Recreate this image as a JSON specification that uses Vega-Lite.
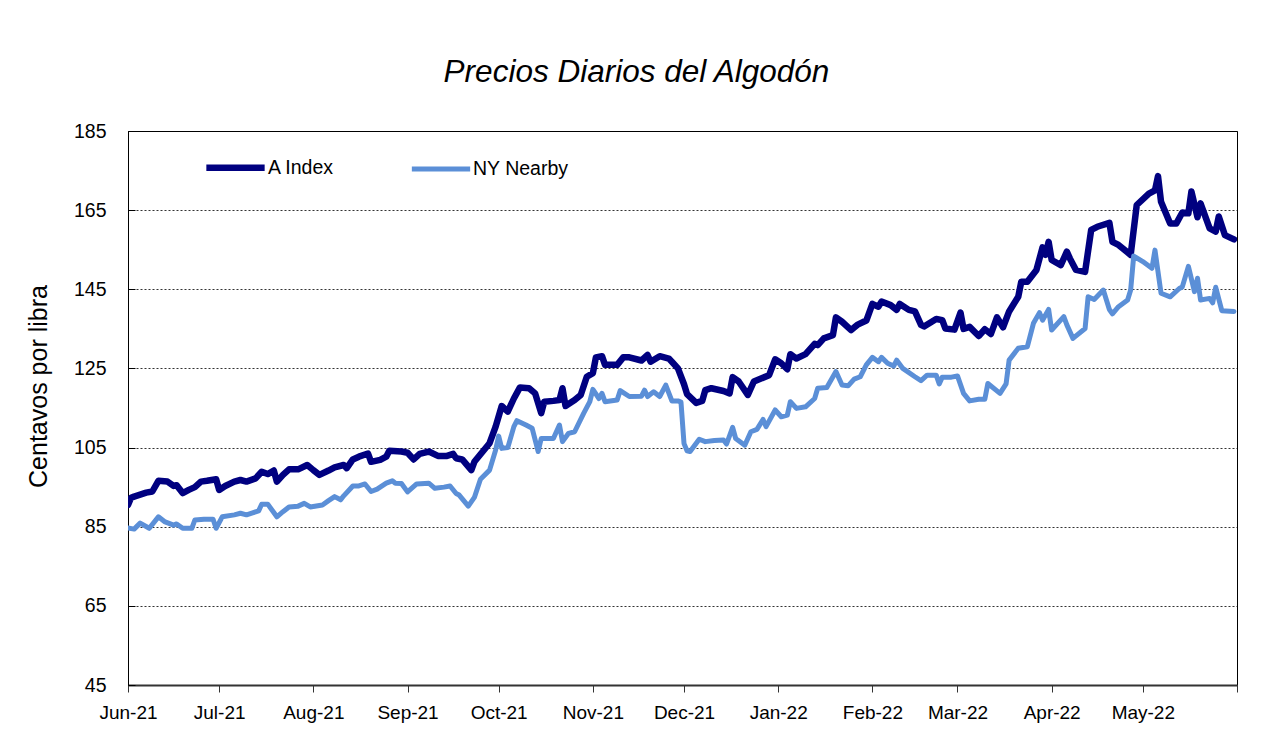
{
  "$schema": "https://vega.github.io/schema/vega-lite/v6.json",
  "width": 1109,
  "height": 554,
  "autosize": {"type": "none"},
  "padding": {"left": 128, "top": 131, "right": 35, "bottom": 58},
  "background": "white",
  "title": {
    "text": "Precios Diarios del Algodón",
    "font": "Liberation Sans",
    "fontSize": 31.5,
    "fontStyle": "italic",
    "fontWeight": "normal",
    "color": "#000",
    "anchor": "middle",
    "offset": 33,
    "dx": -46
  },
  "config": {
    "view": {"stroke": "#000", "strokeWidth": 1},
    "font": "Liberation Sans"
  },
  "datasets": {
    "precios": [
      {"fecha": "2021-06-01", "serie": "A Index", "valor": 90.5},
      {"fecha": "2021-06-02", "serie": "A Index", "valor": 92.3},
      {"fecha": "2021-06-03", "serie": "A Index", "valor": 92.6},
      {"fecha": "2021-06-07", "serie": "A Index", "valor": 93.6},
      {"fecha": "2021-06-09", "serie": "A Index", "valor": 93.9},
      {"fecha": "2021-06-11", "serie": "A Index", "valor": 96.6},
      {"fecha": "2021-06-14", "serie": "A Index", "valor": 96.4},
      {"fecha": "2021-06-16", "serie": "A Index", "valor": 95.3},
      {"fecha": "2021-06-17", "serie": "A Index", "valor": 95.5},
      {"fecha": "2021-06-19", "serie": "A Index", "valor": 93.5},
      {"fecha": "2021-06-21", "serie": "A Index", "valor": 94.3},
      {"fecha": "2021-06-23", "serie": "A Index", "valor": 95.0},
      {"fecha": "2021-06-25", "serie": "A Index", "valor": 96.4},
      {"fecha": "2021-06-27", "serie": "A Index", "valor": 96.6},
      {"fecha": "2021-06-30", "serie": "A Index", "valor": 97.0},
      {"fecha": "2021-07-01", "serie": "A Index", "valor": 94.3},
      {"fecha": "2021-07-03", "serie": "A Index", "valor": 95.3},
      {"fecha": "2021-07-06", "serie": "A Index", "valor": 96.4},
      {"fecha": "2021-07-08", "serie": "A Index", "valor": 96.8},
      {"fecha": "2021-07-10", "serie": "A Index", "valor": 96.4},
      {"fecha": "2021-07-13", "serie": "A Index", "valor": 97.2},
      {"fecha": "2021-07-15", "serie": "A Index", "valor": 98.9},
      {"fecha": "2021-07-17", "serie": "A Index", "valor": 98.3},
      {"fecha": "2021-07-19", "serie": "A Index", "valor": 99.2},
      {"fecha": "2021-07-20", "serie": "A Index", "valor": 96.4},
      {"fecha": "2021-07-22", "serie": "A Index", "valor": 98.1},
      {"fecha": "2021-07-24", "serie": "A Index", "valor": 99.5},
      {"fecha": "2021-07-27", "serie": "A Index", "valor": 99.5},
      {"fecha": "2021-07-30", "serie": "A Index", "valor": 100.6},
      {"fecha": "2021-08-01", "serie": "A Index", "valor": 99.3},
      {"fecha": "2021-08-03", "serie": "A Index", "valor": 98.1},
      {"fecha": "2021-08-06", "serie": "A Index", "valor": 99.2},
      {"fecha": "2021-08-08", "serie": "A Index", "valor": 100.0},
      {"fecha": "2021-08-11", "serie": "A Index", "valor": 100.6},
      {"fecha": "2021-08-12", "serie": "A Index", "valor": 99.8},
      {"fecha": "2021-08-14", "serie": "A Index", "valor": 102.0},
      {"fecha": "2021-08-16", "serie": "A Index", "valor": 102.7},
      {"fecha": "2021-08-19", "serie": "A Index", "valor": 103.5},
      {"fecha": "2021-08-20", "serie": "A Index", "valor": 101.4},
      {"fecha": "2021-08-23", "serie": "A Index", "valor": 101.9},
      {"fecha": "2021-08-25", "serie": "A Index", "valor": 102.7},
      {"fecha": "2021-08-26", "serie": "A Index", "valor": 104.2},
      {"fecha": "2021-08-30", "serie": "A Index", "valor": 104.0},
      {"fecha": "2021-09-01", "serie": "A Index", "valor": 103.7},
      {"fecha": "2021-09-03", "serie": "A Index", "valor": 102.0},
      {"fecha": "2021-09-05", "serie": "A Index", "valor": 103.4},
      {"fecha": "2021-09-08", "serie": "A Index", "valor": 104.0},
      {"fecha": "2021-09-11", "serie": "A Index", "valor": 102.9},
      {"fecha": "2021-09-14", "serie": "A Index", "valor": 102.9},
      {"fecha": "2021-09-16", "serie": "A Index", "valor": 103.4},
      {"fecha": "2021-09-17", "serie": "A Index", "valor": 102.3},
      {"fecha": "2021-09-19", "serie": "A Index", "valor": 102.0},
      {"fecha": "2021-09-22", "serie": "A Index", "valor": 99.3},
      {"fecha": "2021-09-23", "serie": "A Index", "valor": 101.4},
      {"fecha": "2021-09-28", "serie": "A Index", "valor": 106.1},
      {"fecha": "2021-09-30", "serie": "A Index", "valor": 110.3},
      {"fecha": "2021-10-02", "serie": "A Index", "valor": 115.5},
      {"fecha": "2021-10-04", "serie": "A Index", "valor": 114.1},
      {"fecha": "2021-10-06", "serie": "A Index", "valor": 117.4},
      {"fecha": "2021-10-08", "serie": "A Index", "valor": 120.2},
      {"fecha": "2021-10-11", "serie": "A Index", "valor": 120.0},
      {"fecha": "2021-10-13", "serie": "A Index", "valor": 118.7},
      {"fecha": "2021-10-15", "serie": "A Index", "valor": 113.7},
      {"fecha": "2021-10-16", "serie": "A Index", "valor": 116.6},
      {"fecha": "2021-10-19", "serie": "A Index", "valor": 116.8},
      {"fecha": "2021-10-21", "serie": "A Index", "valor": 117.0},
      {"fecha": "2021-10-22", "serie": "A Index", "valor": 120.0},
      {"fecha": "2021-10-23", "serie": "A Index", "valor": 115.5},
      {"fecha": "2021-10-26", "serie": "A Index", "valor": 117.0},
      {"fecha": "2021-10-28", "serie": "A Index", "valor": 118.3},
      {"fecha": "2021-10-30", "serie": "A Index", "valor": 122.9},
      {"fecha": "2021-11-01", "serie": "A Index", "valor": 123.8},
      {"fecha": "2021-11-02", "serie": "A Index", "valor": 127.8},
      {"fecha": "2021-11-04", "serie": "A Index", "valor": 128.1},
      {"fecha": "2021-11-05", "serie": "A Index", "valor": 125.9},
      {"fecha": "2021-11-09", "serie": "A Index", "valor": 125.9},
      {"fecha": "2021-11-11", "serie": "A Index", "valor": 127.8},
      {"fecha": "2021-11-13", "serie": "A Index", "valor": 127.8},
      {"fecha": "2021-11-17", "serie": "A Index", "valor": 127.0},
      {"fecha": "2021-11-19", "serie": "A Index", "valor": 128.4},
      {"fecha": "2021-11-20", "serie": "A Index", "valor": 126.7},
      {"fecha": "2021-11-23", "serie": "A Index", "valor": 128.1},
      {"fecha": "2021-11-26", "serie": "A Index", "valor": 127.5},
      {"fecha": "2021-11-27", "serie": "A Index", "valor": 126.7},
      {"fecha": "2021-11-29", "serie": "A Index", "valor": 125.0},
      {"fecha": "2021-12-01", "serie": "A Index", "valor": 121.0},
      {"fecha": "2021-12-02", "serie": "A Index", "valor": 118.5},
      {"fecha": "2021-12-05", "serie": "A Index", "valor": 116.3},
      {"fecha": "2021-12-07", "serie": "A Index", "valor": 116.8},
      {"fecha": "2021-12-08", "serie": "A Index", "valor": 119.5},
      {"fecha": "2021-12-10", "serie": "A Index", "valor": 120.0},
      {"fecha": "2021-12-14", "serie": "A Index", "valor": 119.3},
      {"fecha": "2021-12-16", "serie": "A Index", "valor": 118.7},
      {"fecha": "2021-12-17", "serie": "A Index", "valor": 122.8},
      {"fecha": "2021-12-19", "serie": "A Index", "valor": 121.7},
      {"fecha": "2021-12-22", "serie": "A Index", "valor": 118.3},
      {"fecha": "2021-12-24", "serie": "A Index", "valor": 121.7},
      {"fecha": "2021-12-29", "serie": "A Index", "valor": 123.3},
      {"fecha": "2021-12-31", "serie": "A Index", "valor": 127.3},
      {"fecha": "2022-01-02", "serie": "A Index", "valor": 126.3},
      {"fecha": "2022-01-04", "serie": "A Index", "valor": 124.8},
      {"fecha": "2022-01-05", "serie": "A Index", "valor": 128.6},
      {"fecha": "2022-01-07", "serie": "A Index", "valor": 127.5},
      {"fecha": "2022-01-10", "serie": "A Index", "valor": 128.6},
      {"fecha": "2022-01-13", "serie": "A Index", "valor": 131.2},
      {"fecha": "2022-01-14", "serie": "A Index", "valor": 130.9},
      {"fecha": "2022-01-16", "serie": "A Index", "valor": 132.6},
      {"fecha": "2022-01-19", "serie": "A Index", "valor": 133.4},
      {"fecha": "2022-01-20", "serie": "A Index", "valor": 137.9},
      {"fecha": "2022-01-22", "serie": "A Index", "valor": 136.8},
      {"fecha": "2022-01-25", "serie": "A Index", "valor": 134.7},
      {"fecha": "2022-01-27", "serie": "A Index", "valor": 136.0},
      {"fecha": "2022-01-30", "serie": "A Index", "valor": 137.1},
      {"fecha": "2022-02-01", "serie": "A Index", "valor": 141.3},
      {"fecha": "2022-02-03", "serie": "A Index", "valor": 140.6},
      {"fecha": "2022-02-04", "serie": "A Index", "valor": 141.9},
      {"fecha": "2022-02-07", "serie": "A Index", "valor": 141.0},
      {"fecha": "2022-02-09", "serie": "A Index", "valor": 139.8},
      {"fecha": "2022-02-10", "serie": "A Index", "valor": 141.3},
      {"fecha": "2022-02-13", "serie": "A Index", "valor": 139.8},
      {"fecha": "2022-02-15", "serie": "A Index", "valor": 139.4},
      {"fecha": "2022-02-17", "serie": "A Index", "valor": 136.0},
      {"fecha": "2022-02-18", "serie": "A Index", "valor": 135.6},
      {"fecha": "2022-02-22", "serie": "A Index", "valor": 137.5},
      {"fecha": "2022-02-24", "serie": "A Index", "valor": 137.2},
      {"fecha": "2022-02-25", "serie": "A Index", "valor": 135.1},
      {"fecha": "2022-02-28", "serie": "A Index", "valor": 134.8},
      {"fecha": "2022-03-02", "serie": "A Index", "valor": 139.1},
      {"fecha": "2022-03-03", "serie": "A Index", "valor": 135.0},
      {"fecha": "2022-03-05", "serie": "A Index", "valor": 135.5},
      {"fecha": "2022-03-08", "serie": "A Index", "valor": 133.2},
      {"fecha": "2022-03-10", "serie": "A Index", "valor": 134.9},
      {"fecha": "2022-03-12", "serie": "A Index", "valor": 133.7},
      {"fecha": "2022-03-14", "serie": "A Index", "valor": 137.9},
      {"fecha": "2022-03-16", "serie": "A Index", "valor": 135.4},
      {"fecha": "2022-03-18", "serie": "A Index", "valor": 139.4},
      {"fecha": "2022-03-21", "serie": "A Index", "valor": 143.1},
      {"fecha": "2022-03-22", "serie": "A Index", "valor": 146.9},
      {"fecha": "2022-03-24", "serie": "A Index", "valor": 146.9},
      {"fecha": "2022-03-27", "serie": "A Index", "valor": 149.9},
      {"fecha": "2022-03-29", "serie": "A Index", "valor": 155.6},
      {"fecha": "2022-03-30", "serie": "A Index", "valor": 153.7},
      {"fecha": "2022-03-31", "serie": "A Index", "valor": 157.0},
      {"fecha": "2022-04-01", "serie": "A Index", "valor": 152.4},
      {"fecha": "2022-04-04", "serie": "A Index", "valor": 151.1},
      {"fecha": "2022-04-06", "serie": "A Index", "valor": 154.5},
      {"fecha": "2022-04-07", "serie": "A Index", "valor": 152.8},
      {"fecha": "2022-04-09", "serie": "A Index", "valor": 149.9},
      {"fecha": "2022-04-12", "serie": "A Index", "valor": 149.4},
      {"fecha": "2022-04-14", "serie": "A Index", "valor": 160.0},
      {"fecha": "2022-04-16", "serie": "A Index", "valor": 160.8},
      {"fecha": "2022-04-20", "serie": "A Index", "valor": 161.8},
      {"fecha": "2022-04-21", "serie": "A Index", "valor": 157.0},
      {"fecha": "2022-04-23", "serie": "A Index", "valor": 156.2},
      {"fecha": "2022-04-27", "serie": "A Index", "valor": 153.7},
      {"fecha": "2022-04-29", "serie": "A Index", "valor": 166.3},
      {"fecha": "2022-05-03", "serie": "A Index", "valor": 169.2},
      {"fecha": "2022-05-05", "serie": "A Index", "valor": 170.0},
      {"fecha": "2022-05-06", "serie": "A Index", "valor": 173.6},
      {"fecha": "2022-05-07", "serie": "A Index", "valor": 167.1},
      {"fecha": "2022-05-10", "serie": "A Index", "valor": 161.6},
      {"fecha": "2022-05-12", "serie": "A Index", "valor": 161.6},
      {"fecha": "2022-05-14", "serie": "A Index", "valor": 164.4},
      {"fecha": "2022-05-16", "serie": "A Index", "valor": 164.2},
      {"fecha": "2022-05-17", "serie": "A Index", "valor": 169.7},
      {"fecha": "2022-05-19", "serie": "A Index", "valor": 163.2},
      {"fecha": "2022-05-20", "serie": "A Index", "valor": 166.7},
      {"fecha": "2022-05-23", "serie": "A Index", "valor": 160.4},
      {"fecha": "2022-05-25", "serie": "A Index", "valor": 159.6},
      {"fecha": "2022-05-26", "serie": "A Index", "valor": 163.4},
      {"fecha": "2022-05-28", "serie": "A Index", "valor": 158.7},
      {"fecha": "2022-05-31", "serie": "A Index", "valor": 157.6},
      {"fecha": "2021-06-01", "serie": "NY Nearby", "valor": 84.7},
      {"fecha": "2021-06-03", "serie": "NY Nearby", "valor": 84.4},
      {"fecha": "2021-06-05", "serie": "NY Nearby", "valor": 85.9},
      {"fecha": "2021-06-08", "serie": "NY Nearby", "valor": 84.6},
      {"fecha": "2021-06-11", "serie": "NY Nearby", "valor": 87.5},
      {"fecha": "2021-06-13", "serie": "NY Nearby", "valor": 86.3},
      {"fecha": "2021-06-16", "serie": "NY Nearby", "valor": 85.4},
      {"fecha": "2021-06-17", "serie": "NY Nearby", "valor": 85.7},
      {"fecha": "2021-06-19", "serie": "NY Nearby", "valor": 84.6},
      {"fecha": "2021-06-22", "serie": "NY Nearby", "valor": 84.6},
      {"fecha": "2021-06-23", "serie": "NY Nearby", "valor": 86.7},
      {"fecha": "2021-06-26", "serie": "NY Nearby", "valor": 86.9},
      {"fecha": "2021-06-29", "serie": "NY Nearby", "valor": 86.9},
      {"fecha": "2021-06-30", "serie": "NY Nearby", "valor": 84.6},
      {"fecha": "2021-07-02", "serie": "NY Nearby", "valor": 87.5},
      {"fecha": "2021-07-06", "serie": "NY Nearby", "valor": 88.0},
      {"fecha": "2021-07-08", "serie": "NY Nearby", "valor": 88.4},
      {"fecha": "2021-07-10", "serie": "NY Nearby", "valor": 88.0},
      {"fecha": "2021-07-12", "serie": "NY Nearby", "valor": 88.5},
      {"fecha": "2021-07-14", "serie": "NY Nearby", "valor": 89.0},
      {"fecha": "2021-07-15", "serie": "NY Nearby", "valor": 90.7},
      {"fecha": "2021-07-17", "serie": "NY Nearby", "valor": 90.7},
      {"fecha": "2021-07-20", "serie": "NY Nearby", "valor": 87.5},
      {"fecha": "2021-07-22", "serie": "NY Nearby", "valor": 88.8},
      {"fecha": "2021-07-24", "serie": "NY Nearby", "valor": 90.0},
      {"fecha": "2021-07-27", "serie": "NY Nearby", "valor": 90.2},
      {"fecha": "2021-07-29", "serie": "NY Nearby", "valor": 90.9},
      {"fecha": "2021-07-31", "serie": "NY Nearby", "valor": 90.0},
      {"fecha": "2021-08-04", "serie": "NY Nearby", "valor": 90.5},
      {"fecha": "2021-08-06", "serie": "NY Nearby", "valor": 91.6},
      {"fecha": "2021-08-08", "serie": "NY Nearby", "valor": 92.6},
      {"fecha": "2021-08-10", "serie": "NY Nearby", "valor": 91.8},
      {"fecha": "2021-08-11", "serie": "NY Nearby", "valor": 92.8},
      {"fecha": "2021-08-14", "serie": "NY Nearby", "valor": 95.3},
      {"fecha": "2021-08-16", "serie": "NY Nearby", "valor": 95.3},
      {"fecha": "2021-08-18", "serie": "NY Nearby", "valor": 95.8},
      {"fecha": "2021-08-20", "serie": "NY Nearby", "valor": 93.9},
      {"fecha": "2021-08-22", "serie": "NY Nearby", "valor": 94.5},
      {"fecha": "2021-08-25", "serie": "NY Nearby", "valor": 96.0},
      {"fecha": "2021-08-27", "serie": "NY Nearby", "valor": 96.6},
      {"fecha": "2021-08-28", "serie": "NY Nearby", "valor": 96.0},
      {"fecha": "2021-08-30", "serie": "NY Nearby", "valor": 95.9},
      {"fecha": "2021-09-01", "serie": "NY Nearby", "valor": 93.8},
      {"fecha": "2021-09-04", "serie": "NY Nearby", "valor": 95.8},
      {"fecha": "2021-09-08", "serie": "NY Nearby", "valor": 96.0},
      {"fecha": "2021-09-10", "serie": "NY Nearby", "valor": 94.7},
      {"fecha": "2021-09-13", "serie": "NY Nearby", "valor": 95.0},
      {"fecha": "2021-09-15", "serie": "NY Nearby", "valor": 95.3},
      {"fecha": "2021-09-17", "serie": "NY Nearby", "valor": 93.4},
      {"fecha": "2021-09-18", "serie": "NY Nearby", "valor": 93.0},
      {"fecha": "2021-09-21", "serie": "NY Nearby", "valor": 90.2},
      {"fecha": "2021-09-23", "serie": "NY Nearby", "valor": 92.4},
      {"fecha": "2021-09-25", "serie": "NY Nearby", "valor": 97.0},
      {"fecha": "2021-09-28", "serie": "NY Nearby", "valor": 99.3},
      {"fecha": "2021-09-30", "serie": "NY Nearby", "valor": 104.4},
      {"fecha": "2021-10-01", "serie": "NY Nearby", "valor": 107.9},
      {"fecha": "2021-10-02", "serie": "NY Nearby", "valor": 104.8},
      {"fecha": "2021-10-04", "serie": "NY Nearby", "valor": 105.0},
      {"fecha": "2021-10-06", "serie": "NY Nearby", "valor": 110.3},
      {"fecha": "2021-10-07", "serie": "NY Nearby", "valor": 111.8},
      {"fecha": "2021-10-10", "serie": "NY Nearby", "valor": 110.7},
      {"fecha": "2021-10-12", "serie": "NY Nearby", "valor": 109.9},
      {"fecha": "2021-10-14", "serie": "NY Nearby", "valor": 104.0},
      {"fecha": "2021-10-15", "serie": "NY Nearby", "valor": 107.3},
      {"fecha": "2021-10-19", "serie": "NY Nearby", "valor": 107.3},
      {"fecha": "2021-10-21", "serie": "NY Nearby", "valor": 110.7},
      {"fecha": "2021-10-22", "serie": "NY Nearby", "valor": 106.5},
      {"fecha": "2021-10-24", "serie": "NY Nearby", "valor": 108.6},
      {"fecha": "2021-10-26", "serie": "NY Nearby", "valor": 109.0},
      {"fecha": "2021-10-29", "serie": "NY Nearby", "valor": 113.7},
      {"fecha": "2021-10-31", "serie": "NY Nearby", "valor": 116.6},
      {"fecha": "2021-11-01", "serie": "NY Nearby", "valor": 119.7},
      {"fecha": "2021-11-03", "serie": "NY Nearby", "valor": 117.4},
      {"fecha": "2021-11-04", "serie": "NY Nearby", "valor": 118.7},
      {"fecha": "2021-11-05", "serie": "NY Nearby", "valor": 116.6},
      {"fecha": "2021-11-09", "serie": "NY Nearby", "valor": 117.0},
      {"fecha": "2021-11-10", "serie": "NY Nearby", "valor": 119.4},
      {"fecha": "2021-11-13", "serie": "NY Nearby", "valor": 117.9},
      {"fecha": "2021-11-17", "serie": "NY Nearby", "valor": 118.0},
      {"fecha": "2021-11-18", "serie": "NY Nearby", "valor": 119.5},
      {"fecha": "2021-11-19", "serie": "NY Nearby", "valor": 117.9},
      {"fecha": "2021-11-21", "serie": "NY Nearby", "valor": 119.1},
      {"fecha": "2021-11-23", "serie": "NY Nearby", "valor": 117.9},
      {"fecha": "2021-11-25", "serie": "NY Nearby", "valor": 120.8},
      {"fecha": "2021-11-27", "serie": "NY Nearby", "valor": 116.8},
      {"fecha": "2021-11-29", "serie": "NY Nearby", "valor": 116.8},
      {"fecha": "2021-11-30", "serie": "NY Nearby", "valor": 116.5},
      {"fecha": "2021-12-01", "serie": "NY Nearby", "valor": 106.0},
      {"fecha": "2021-12-02", "serie": "NY Nearby", "valor": 104.2},
      {"fecha": "2021-12-03", "serie": "NY Nearby", "valor": 104.0},
      {"fecha": "2021-12-06", "serie": "NY Nearby", "valor": 107.1},
      {"fecha": "2021-12-08", "serie": "NY Nearby", "valor": 106.5},
      {"fecha": "2021-12-11", "serie": "NY Nearby", "valor": 106.8},
      {"fecha": "2021-12-14", "serie": "NY Nearby", "valor": 106.9},
      {"fecha": "2021-12-15", "serie": "NY Nearby", "valor": 105.9},
      {"fecha": "2021-12-17", "serie": "NY Nearby", "valor": 110.1},
      {"fecha": "2021-12-18", "serie": "NY Nearby", "valor": 107.3},
      {"fecha": "2021-12-21", "serie": "NY Nearby", "valor": 105.6},
      {"fecha": "2021-12-23", "serie": "NY Nearby", "valor": 109.0},
      {"fecha": "2021-12-25", "serie": "NY Nearby", "valor": 109.6},
      {"fecha": "2021-12-27", "serie": "NY Nearby", "valor": 112.1},
      {"fecha": "2021-12-28", "serie": "NY Nearby", "valor": 110.3},
      {"fecha": "2021-12-31", "serie": "NY Nearby", "valor": 114.5},
      {"fecha": "2022-01-02", "serie": "NY Nearby", "valor": 112.8},
      {"fecha": "2022-01-04", "serie": "NY Nearby", "valor": 113.2},
      {"fecha": "2022-01-05", "serie": "NY Nearby", "valor": 116.6},
      {"fecha": "2022-01-07", "serie": "NY Nearby", "valor": 114.9},
      {"fecha": "2022-01-10", "serie": "NY Nearby", "valor": 115.3},
      {"fecha": "2022-01-13", "serie": "NY Nearby", "valor": 117.4},
      {"fecha": "2022-01-14", "serie": "NY Nearby", "valor": 120.0},
      {"fecha": "2022-01-17", "serie": "NY Nearby", "valor": 120.2},
      {"fecha": "2022-01-20", "serie": "NY Nearby", "valor": 124.2},
      {"fecha": "2022-01-22", "serie": "NY Nearby", "valor": 120.8},
      {"fecha": "2022-01-24", "serie": "NY Nearby", "valor": 120.6},
      {"fecha": "2022-01-26", "serie": "NY Nearby", "valor": 122.3},
      {"fecha": "2022-01-28", "serie": "NY Nearby", "valor": 122.9},
      {"fecha": "2022-01-30", "serie": "NY Nearby", "valor": 125.9},
      {"fecha": "2022-02-01", "serie": "NY Nearby", "valor": 127.8},
      {"fecha": "2022-02-03", "serie": "NY Nearby", "valor": 126.7},
      {"fecha": "2022-02-04", "serie": "NY Nearby", "valor": 127.8},
      {"fecha": "2022-02-06", "serie": "NY Nearby", "valor": 126.3},
      {"fecha": "2022-02-08", "serie": "NY Nearby", "valor": 125.6},
      {"fecha": "2022-02-09", "serie": "NY Nearby", "valor": 127.1},
      {"fecha": "2022-02-11", "serie": "NY Nearby", "valor": 125.0},
      {"fecha": "2022-02-15", "serie": "NY Nearby", "valor": 122.9},
      {"fecha": "2022-02-17", "serie": "NY Nearby", "valor": 121.9},
      {"fecha": "2022-02-19", "serie": "NY Nearby", "valor": 123.3},
      {"fecha": "2022-02-22", "serie": "NY Nearby", "valor": 123.3},
      {"fecha": "2022-02-23", "serie": "NY Nearby", "valor": 121.1},
      {"fecha": "2022-02-24", "serie": "NY Nearby", "valor": 122.8},
      {"fecha": "2022-02-27", "serie": "NY Nearby", "valor": 122.8},
      {"fecha": "2022-03-01", "serie": "NY Nearby", "valor": 123.1},
      {"fecha": "2022-03-03", "serie": "NY Nearby", "valor": 118.7},
      {"fecha": "2022-03-05", "serie": "NY Nearby", "valor": 116.8},
      {"fecha": "2022-03-08", "serie": "NY Nearby", "valor": 117.2},
      {"fecha": "2022-03-10", "serie": "NY Nearby", "valor": 117.2},
      {"fecha": "2022-03-11", "serie": "NY Nearby", "valor": 121.2},
      {"fecha": "2022-03-15", "serie": "NY Nearby", "valor": 118.7},
      {"fecha": "2022-03-17", "serie": "NY Nearby", "valor": 121.1},
      {"fecha": "2022-03-18", "serie": "NY Nearby", "valor": 127.1},
      {"fecha": "2022-03-21", "serie": "NY Nearby", "valor": 130.1},
      {"fecha": "2022-03-24", "serie": "NY Nearby", "valor": 130.5},
      {"fecha": "2022-03-26", "serie": "NY Nearby", "valor": 136.4},
      {"fecha": "2022-03-28", "serie": "NY Nearby", "valor": 139.1},
      {"fecha": "2022-03-29", "serie": "NY Nearby", "valor": 137.2},
      {"fecha": "2022-03-31", "serie": "NY Nearby", "valor": 139.9},
      {"fecha": "2022-04-01", "serie": "NY Nearby", "valor": 134.7},
      {"fecha": "2022-04-05", "serie": "NY Nearby", "valor": 138.1},
      {"fecha": "2022-04-06", "serie": "NY Nearby", "valor": 136.0},
      {"fecha": "2022-04-08", "serie": "NY Nearby", "valor": 132.6},
      {"fecha": "2022-04-12", "serie": "NY Nearby", "valor": 135.1},
      {"fecha": "2022-04-13", "serie": "NY Nearby", "valor": 143.1},
      {"fecha": "2022-04-15", "serie": "NY Nearby", "valor": 142.4},
      {"fecha": "2022-04-18", "serie": "NY Nearby", "valor": 144.8},
      {"fecha": "2022-04-20", "serie": "NY Nearby", "valor": 139.9},
      {"fecha": "2022-04-21", "serie": "NY Nearby", "valor": 138.8},
      {"fecha": "2022-04-23", "serie": "NY Nearby", "valor": 140.6},
      {"fecha": "2022-04-26", "serie": "NY Nearby", "valor": 142.3},
      {"fecha": "2022-04-27", "serie": "NY Nearby", "valor": 144.8},
      {"fecha": "2022-04-28", "serie": "NY Nearby", "valor": 153.4},
      {"fecha": "2022-05-01", "serie": "NY Nearby", "valor": 152.0},
      {"fecha": "2022-05-04", "serie": "NY Nearby", "valor": 150.3},
      {"fecha": "2022-05-05", "serie": "NY Nearby", "valor": 154.9},
      {"fecha": "2022-05-07", "serie": "NY Nearby", "valor": 144.0},
      {"fecha": "2022-05-10", "serie": "NY Nearby", "valor": 143.1},
      {"fecha": "2022-05-13", "serie": "NY Nearby", "valor": 145.2},
      {"fecha": "2022-05-14", "serie": "NY Nearby", "valor": 145.6},
      {"fecha": "2022-05-16", "serie": "NY Nearby", "valor": 150.8},
      {"fecha": "2022-05-18", "serie": "NY Nearby", "valor": 144.4},
      {"fecha": "2022-05-19", "serie": "NY Nearby", "valor": 147.8},
      {"fecha": "2022-05-20", "serie": "NY Nearby", "valor": 142.3},
      {"fecha": "2022-05-23", "serie": "NY Nearby", "valor": 142.7},
      {"fecha": "2022-05-24", "serie": "NY Nearby", "valor": 141.6},
      {"fecha": "2022-05-25", "serie": "NY Nearby", "valor": 145.5},
      {"fecha": "2022-05-27", "serie": "NY Nearby", "valor": 139.6},
      {"fecha": "2022-05-31", "serie": "NY Nearby", "valor": 139.4}
    ]
  },
  "data": {"name": "precios"},
  "mark": {"type": "line", "strokeJoin": "round", "strokeCap": "round", "clip": true},
  "encoding": {
    "x": {
      "field": "fecha",
      "type": "temporal",
      "scale": {
        "type": "utc",
        "domain": [
          {"year": 2021, "month": 6, "date": 1, "utc": true},
          {"year": 2022, "month": 6, "date": 1, "utc": true}
        ]
      },
      "axis": {
        "title": null,
        "grid": false,
        "tickCount": {"interval": "month", "step": 1},
        "labelExpr": "datum.value >= utc(2022, 5, 1) ? '' : utcFormat(datum.value, '%b-%y')",
        "labelFont": "Liberation Sans",
        "labelFontSize": 19,
        "labelColor": "#000",
        "labelPadding": 11,
        "labelFlush": false,
        "labelOverlap": false,
        "tickSize": 7,
        "tickColor": "#333",
        "tickWidth": 1,
        "domainColor": "#333",
        "domainWidth": 2
      }
    },
    "y": {
      "field": "valor",
      "type": "quantitative",
      "scale": {"domain": [45, 185], "nice": false, "zero": false},
      "axis": {
        "title": "Centavos por libra",
        "titleFont": "Liberation Sans",
        "titleFontSize": 25,
        "titleFontWeight": "normal",
        "titleColor": "#000",
        "titleX": -90,
        "titleY": 255,
        "titleBaseline": "middle",
        "values": [45, 65, 85, 105, 125, 145, 165, 185],
        "labelFont": "Liberation Sans",
        "labelFontSize": 19.5,
        "labelColor": "#000",
        "labelPadding": 29,
        "tickSize": -7,
        "tickColor": "#000",
        "tickWidth": 1,
        "domainColor": "#000",
        "domainWidth": 1,
        "grid": true,
        "gridColor": "#000",
        "gridDash": [2, 2],
        "gridWidth": 1,
        "gridOpacity": 0.8
      }
    },
    "color": {
      "field": "serie",
      "type": "nominal",
      "scale": {"domain": ["A Index", "NY Nearby"], "range": ["#000080", "#5B8FD7"]},
      "legend": {
        "title": null,
        "orient": "none",
        "legendX": 75,
        "legendY": 4,
        "direction": "horizontal",
        "symbolType": "stroke",
        "symbolSize": 3400,
        "symbolStrokeWidth": 5,
        "labelFont": "Liberation Sans",
        "labelFontSize": 19.5,
        "labelColor": "#000",
        "labelOffset": 0,
        "columnPadding": 66,
        "padding": 0
      }
    },
    "strokeWidth": {
      "field": "serie",
      "type": "nominal",
      "scale": {"domain": ["A Index", "NY Nearby"], "range": [6.5, 5]},
      "legend": null
    }
  }
}
